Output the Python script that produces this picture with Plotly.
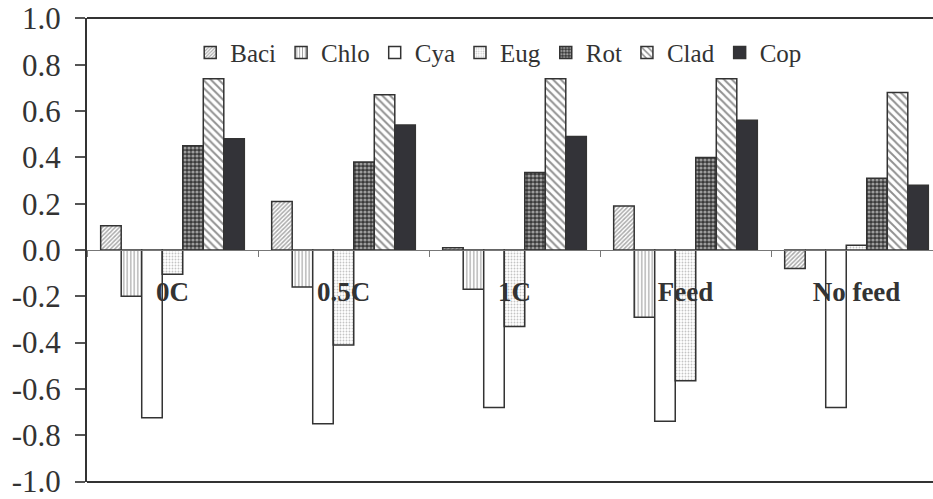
import plotly.graph_objects as go

# Treatments (x categories) and group names (series)
treatments = ["0C", "0.5C", "1C", "Feed", "No feed"]
groups = ["Baci", "Chlo", "Cya", "Eug", "Rot", "Clad", "Cop"]

# Correlation values per group, one per treatment
baci = [0.105, 0.21, 0.01, 0.19, -0.08]
chlo = [-0.20, -0.16, -0.17, -0.29, 0.0]
cya = [-0.725, -0.75, -0.68, -0.74, -0.68]
eug = [-0.105, -0.41, -0.33, -0.565, 0.02]
rot = [0.45, 0.38, 0.335, 0.40, 0.31]
clad = [0.74, 0.67, 0.74, 0.74, 0.68]
cop = [0.48, 0.54, 0.49, 0.56, 0.28]

series = [baci, chlo, cya, eug, rot, clad, cop]

y_ticks = [-1.0, -0.8, -0.6, -0.4, -0.2, 0.0, 0.2, 0.4, 0.6, 0.8, 1.0]

FONT = "Liberation Serif"
INK = "#333333"

patterns = {
    "Baci": dict(shape="/", fgcolor="#555555", bgcolor="white", size=3, solidity=0.5),
    "Chlo": dict(shape="|", fgcolor="#333333", bgcolor="white", size=3.5, solidity=0.3),
    "Cya": dict(shape="", bgcolor="white"),
    "Eug": dict(shape=".", fgcolor="#8a8a8a", bgcolor="white", size=3, solidity=0.3),
    "Rot": dict(shape=".", fgcolor="white", bgcolor="#3a3a3a", size=4, solidity=0.5),
    "Clad": dict(shape="\\", fgcolor="#222222", bgcolor="white", size=5.5, solidity=0.35),
    "Cop": dict(shape="", bgcolor="#333338"),
}
fills = {"Cya": "white", "Cop": "#333338"}

x_pos = list(range(len(treatments)))

fig = go.Figure()
for name, vals in zip(groups, series):
    pat = patterns[name]
    marker = dict(
        color=fills.get(name, "white"),
        line=dict(color=INK, width=1.5),
    )
    if pat.get("shape"):
        marker["pattern"] = pat
    fig.add_trace(go.Bar(x=x_pos, y=vals, name=name, marker=marker))

W, H = 933, 499
ml, mt, mb = 87, 18, 15
plot_w = W - ml
cat_px = 171.0
x_max = -0.5 + plot_w / cat_px

fig.update_layout(
    width=W,
    height=H,
    margin=dict(l=ml, r=0, t=mt, b=mb, pad=0),
    paper_bgcolor="white",
    plot_bgcolor="white",
    barmode="group",
    bargap=0.16,
    bargroupgap=0,
    font=dict(family=FONT, color=INK),
    showlegend=True,
    legend=dict(
        orientation="h",
        x=0.122,
        y=0.925,
        xanchor="left",
        yanchor="middle",
        font=dict(family=FONT, size=25, color=INK),
        bgcolor="rgba(0,0,0,0)",
        itemwidth=30,
        tracegroupgap=0,
    ),
    xaxis=dict(
        range=[-0.5, x_max],
        anchor="free",
        position=0.5,
        tickmode="array",
        tickvals=x_pos,
        ticktext=treatments,
        ticks="",
        tickfont=dict(family=FONT, size=27, color=INK, weight="bold"),
        ticklabelstandoff=18,
        showline=True,
        linecolor="#777777",
        linewidth=1,
        showgrid=False,
        zeroline=False,
        minor=dict(tick0=0.5, dtick=1, ticks="outside", ticklen=6, tickcolor="#777777", tickwidth=1),
    ),
    yaxis=dict(
        range=[-1.002, 1.002],
        tickmode="array",
        tickvals=y_ticks,
        ticktext=[f"{v:.1f}" for v in y_ticks],
        ticks="outside",
        ticklen=10,
        tickwidth=1.5,
        tickcolor="#555555",
        tickfont=dict(family=FONT, size=31, color=INK),
        ticklabelstandoff=8,
        ticklabeloverflow="allow",
        showline=True,
        linecolor=INK,
        linewidth=2,
        showgrid=False,
        zeroline=False,
    ),
    shapes=[
        dict(type="line", xref="paper", yref="paper", x0=0, x1=1, y0=1, y1=1,
             line=dict(color=INK, width=2), layer="below"),
        dict(type="line", xref="paper", yref="paper", x0=0, x1=1, y0=0, y1=0,
             line=dict(color=INK, width=2), layer="below"),
    ],
)

fig.write_html("out.html")
